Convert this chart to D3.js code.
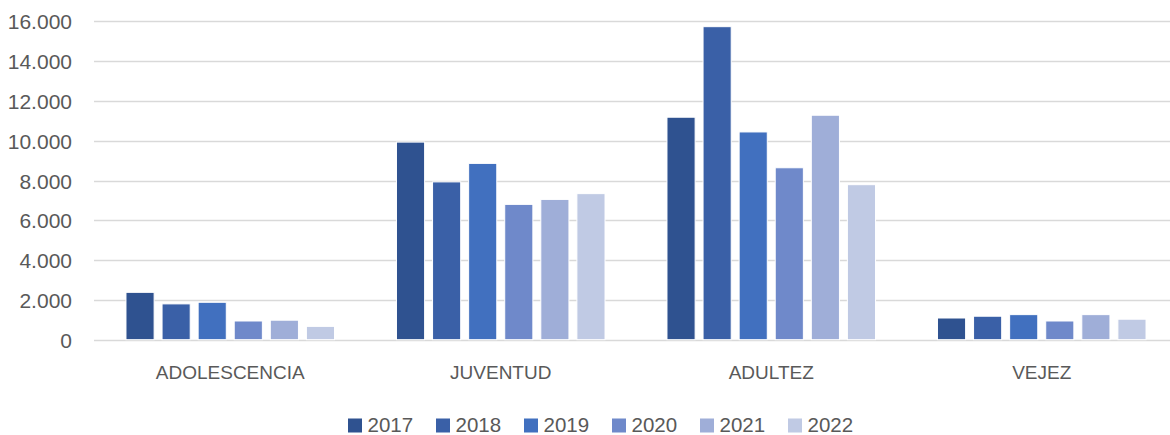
<!DOCTYPE html>
<html>
<head>
<meta charset="utf-8">
<script src="https://cdn.jsdelivr.net/npm/d3@7"></script>
<style>
  body { margin: 0; background: #fff; }
  text { font-family: "Liberation Sans", Arial, sans-serif; fill: #595959; }
</style>
</head>
<body>
<script>
// data
var categories = ["ADOLESCENCIA", "JUVENTUD", "ADULTEZ", "VEJEZ"];
var years = ["2017", "2018", "2019", "2020", "2021", "2022"];
var v2017 = [2380, 9930, 11180, 1090];
var v2018 = [1800, 7930, 15730, 1180];
var v2019 = [1880, 8860, 10440, 1260];
var v2020 = [940, 6800, 8640, 940];
var v2021 = [980, 7050, 11280, 1260];
var v2022 = [670, 7340, 7790, 1030];
var yTicks = [0, 2000, 4000, 6000, 8000, 10000, 12000, 14000, 16000];
var colors = ["#2F5290", "#3A60A7", "#4170BF", "#6F89CA", "#9FAED8", "#C0CAE4"];

var series = [v2017, v2018, v2019, v2020, v2021, v2022];

var svgWidth = 1170;
var svgHeight = 435;

var svg = d3.select("body")
  .append("svg")
  .attr("width", svgWidth)
  .attr("height", svgHeight);

// scales
var x0 = d3.scaleBand()
  .domain(categories)
  .range([95, 1177])
  .paddingInner(0.229)
  .paddingOuter(0.1145);

var x1 = d3.scaleBand()
  .domain(years)
  .range([0, x0.bandwidth()])
  .paddingInner(0.22)
  .paddingOuter(0);

var y = d3.scaleLinear()
  .domain([0, 16000])
  .range([339.7, 21.3]);

var locale = d3.formatLocale({ decimal: ",", thousands: ".", grouping: [3], currency: ["", ""] });
var fmt = locale.format(",");

// gridlines
svg.append("g")
  .selectAll("line")
  .data(yTicks)
  .enter()
  .append("line")
  .attr("x1", 94)
  .attr("x2", svgWidth)
  .attr("y1", d => Math.round(y(d)) + 0.5)
  .attr("y2", d => Math.round(y(d)) + 0.5)
  .attr("stroke", "#D9D9D9")
  .attr("stroke-width", 1.5);

// y axis labels
var leftAxis = d3.axisLeft(y).tickValues(yTicks).tickFormat(fmt).tickSize(0).tickPadding(0);
var yAxisG = svg.append("g")
  .attr("transform", "translate(72,0)")
  .call(leftAxis);
yAxisG.select(".domain").remove();
yAxisG.selectAll("text")
  .attr("font-family", null)
  .attr("font-size", "21px")
  .attr("dy", "0.36em");

// bars
var groups = svg.append("g")
  .selectAll("g")
  .data(categories)
  .enter()
  .append("g")
  .attr("transform", d => `translate(${x0(d)},0)`);

groups.selectAll("rect")
  .data((c, ci) => years.map((yr, yi) => ({ year: yr, i: yi, value: series[yi][ci] })))
  .enter()
  .append("rect")
  .attr("x", d => x1(d.year))
  .attr("y", d => y(d.value))
  .attr("width", x1.bandwidth())
  .attr("height", d => y(0) - y(d.value))
  .attr("fill", d => colors[d.i])
  .attr("stroke", "#ffffff")
  .attr("stroke-width", 1);

// x axis category labels
var bottomAxis = d3.axisBottom(x0).tickSize(0).tickPadding(0);
var xAxisG = svg.append("g")
  .call(bottomAxis);
xAxisG.select(".domain").remove();
xAxisG.selectAll("text")
  .attr("font-family", null)
  .attr("font-size", "19px")
  .attr("y", 379)
  .attr("dy", null);

// legend
var legend = svg.append("g")
  .selectAll("g")
  .data(years)
  .enter()
  .append("g")
  .attr("transform", (d, i) => `translate(${348 + i * 88},0)`);

legend.append("rect")
  .attr("x", 0)
  .attr("y", 418.5)
  .attr("width", 14)
  .attr("height", 14)
  .attr("fill", (d, i) => colors[i]);

legend.append("text")
  .attr("x", 19.5)
  .attr("y", 432.3)
  .attr("font-size", "20.5px")
  .text(d => d);
</script>
</body>
</html>
